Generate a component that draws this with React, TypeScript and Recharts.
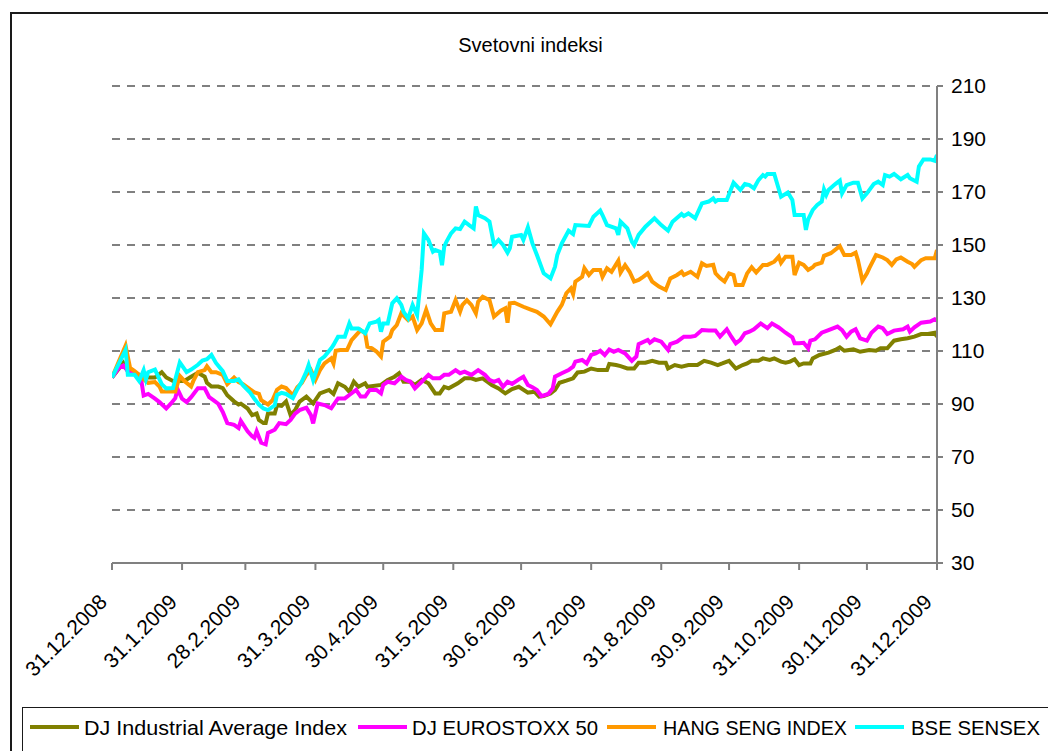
import React from "react";
import { LineChart, Line, XAxis, YAxis, CartesianGrid } from "recharts";

// day offsets from 31.12.2008, index values (31.12.2008 = 100)
const djia: [number, number][] = [
  [0, 100], [5, 105.5], [7, 102.4], [10, 101.5], [14, 100.5], [16, 100], [19, 100], [22, 102], [24, 100],
  [27, 98.7], [30, 98.7], [32, 98.7], [35, 100.3], [38, 101.8], [41, 100.3], [42, 98], [44, 96.6], [47, 96.6],
  [49, 96], [51, 93.3], [54, 91], [56, 89.8], [57, 90.1], [60, 88.3], [62, 85.8], [64, 86.4], [65, 84],
  [67, 82.8], [68, 82.8], [69, 86.4], [72, 86.4], [73, 89.5], [75, 89.3], [77, 91], [79, 85.8], [81, 87.7],
  [83, 90.9], [86, 92.8], [89, 90.2], [92, 94], [96, 95.3], [98, 93.8], [100, 97.8], [103, 96.5], [105, 94.6],
  [107, 98.4], [109, 96.5], [112, 97.8], [113, 96.5], [119, 97.2], [122, 99.1], [125, 100.3], [127, 101.6],
  [129, 98.4], [132, 98.4], [134, 97.2], [137, 99.1], [140, 97.8], [143, 94], [145, 94], [147, 96.5],
  [149, 95.9], [153, 97.8], [156, 99.7], [159, 99.7], [161, 99.1], [164, 99.7], [166, 98.4], [168, 97.2],
  [171, 95.9], [174, 94], [177, 95.6], [180, 96.5], [184, 94.3], [187, 94.6], [189, 92.8], [191, 93],
  [194, 94], [196, 95.3], [198, 98], [201, 98.8], [204, 99.7], [206, 101.9], [209, 102.2], [212, 103.4],
  [215, 102.8], [219, 102.8], [220, 105.1], [223, 104.7], [225, 104.3], [228, 103.4], [231, 103.4],
  [233, 105.6], [236, 105.6], [239, 106.3], [242, 105.6], [245, 105.6], [246, 103.4], [249, 104.7],
  [252, 104.1], [255, 104.7], [259, 104.7], [262, 106.3], [265, 105.6], [268, 104.7], [270, 105.3],
  [273, 106.3], [276, 103.4], [279, 104.7], [281, 105.3], [283, 106.3], [286, 106.3], [288, 107.2],
  [291, 106.6], [293, 107.2], [296, 106], [298, 105.6], [300, 106], [302, 106.9], [304, 104.7], [306, 105.3],
  [309, 105.3], [310, 107.2], [313, 108.5], [317, 109.4], [320, 110.4], [322, 111.4], [324, 110.1],
  [328, 110.6], [331, 109.7], [335, 110.4], [338, 110.1], [340, 111], [343, 111], [346, 113.9], [349, 114.4],
  [352, 114.8], [355, 115.4], [358, 116.4], [361, 116.4], [364, 116.9], [365, 115.4],
];

const eurostoxx: [number, number][] = [
  [0, 100], [3, 103.6], [5, 104.5], [7, 102.4], [11, 100.8], [13, 98.7], [14, 93.2], [16, 93.8], [19, 92],
  [21, 90.7], [24, 88.3], [26, 90.1], [28, 92.2], [29, 95.6], [31, 92], [33, 90.7], [35, 92.6], [38, 95.9],
  [41, 95.9], [43, 92.6], [45, 91.4], [47, 90.1], [49, 87], [51, 82.8], [54, 82.1], [56, 80.9], [57, 83.6],
  [60, 79.7], [62, 77.8], [63, 77.2], [64, 79.7], [66, 75.4], [68, 74.8], [69, 79.1], [72, 80.3], [74, 82.8],
  [77, 82.4], [79, 84], [81, 86.4], [83, 87.7], [86, 88.6], [88, 85.8], [89, 82.7], [91, 90.2], [94, 89.6],
  [97, 88.4], [100, 92.1], [103, 92.1], [105, 93.4], [108, 95.3], [110, 92.8], [112, 92.8], [114, 95.3],
  [117, 95.3], [119, 94], [120, 97.2], [122, 98.4], [125, 97.8], [128, 100.3], [130, 99.1], [132, 98.4],
  [134, 95.9], [137, 98.4], [140, 101], [142, 99.7], [145, 99.7], [147, 101], [149, 101], [152, 102.8],
  [154, 101.6], [156, 102.2], [159, 101], [162, 102.8], [165, 101], [167, 99.1], [169, 98.4], [171, 99.1],
  [173, 96.5], [175, 98.4], [177, 97.6], [180, 99.3], [182, 100.3], [184, 97.2], [186, 96.3], [188, 95.3],
  [190, 93], [193, 93.8], [195, 95.9], [196, 100.3], [199, 101.6], [202, 102.8], [204, 104.1], [205, 106],
  [208, 106.6], [210, 105.3], [212, 108.5], [214, 109.1], [216, 110.1], [218, 108.5], [220, 110.6],
  [222, 109.7], [224, 110.4], [227, 109.1], [230, 106.3], [232, 107.9], [233, 112.6], [237, 114.2],
  [238, 113.1], [240, 114.4], [243, 113.5], [246, 110.4], [247, 112.6], [250, 113.5], [253, 115.4],
  [256, 115.4], [258, 115.7], [261, 117.9], [264, 117.7], [267, 117.7], [269, 115.4], [272, 118.2],
  [274, 115.4], [276, 112.9], [278, 114.2], [280, 116.7], [282, 117.3], [284, 118.2], [287, 120.4],
  [290, 118.6], [292, 120.4], [295, 118.9], [298, 116.9], [301, 115.2], [302, 112.9], [304, 112.9],
  [306, 113.1], [308, 111], [309, 113.9], [311, 114.4], [314, 116.9], [317, 117.9], [321, 119.2],
  [323, 117.9], [325, 115.4], [327, 117.3], [329, 118.2], [331, 114.8], [334, 113.9], [336, 116.9],
  [339, 119.2], [341, 118.6], [343, 116.4], [346, 117.7], [350, 118.2], [352, 119.2], [353, 117.3],
  [355, 118.9], [358, 120.7], [362, 121.1], [364, 122], [365, 121.5],
];

const hangSeng: [number, number][] = [
  [0, 100], [3, 106], [6, 112], [8, 103.6], [10, 102.4], [12, 101], [14, 99.3], [16, 98], [19, 98.3],
  [21, 96.6], [22, 94.7], [24, 94.7], [28, 94.7], [30, 100.6], [32, 98.7], [35, 96.6], [36, 98.7], [38, 102],
  [41, 102.8], [42, 104.2], [44, 102], [46, 102], [49, 101], [51, 97.5], [54, 100], [56, 98.3], [58, 97.5],
  [61, 95.6], [63, 94.4], [65, 93.8], [66, 91.4], [69, 89.8], [71, 91.4], [73, 95.4], [75, 96.6], [77, 96],
  [80, 93.3], [82, 96.3], [84, 98], [86, 101], [88, 102.8], [90, 99.1], [92, 102.8], [94, 105.3],
  [97, 107.2], [98, 105.3], [99, 110.1], [101, 110.4], [104, 110.4], [106, 114.1], [108, 116], [110, 117.9],
  [112, 116.7], [113, 111.6], [115, 111], [117, 109.8], [119, 107.9], [120, 113.5], [123, 115.4],
  [124, 117.9], [126, 119.8], [128, 124.2], [131, 121.7], [133, 123], [135, 117.9], [137, 120.4],
  [139, 125.5], [141, 120.4], [143, 117.9], [146, 117.9], [147, 124.2], [150, 124.8], [152, 129.2],
  [154, 124.8], [155, 127.3], [157, 129.2], [159, 127.4], [161, 124.2], [162, 128.6], [164, 130.5],
  [167, 129.2], [169, 123], [172, 125.2], [174, 126.1], [175, 120.7], [176, 128], [178, 128.2], [182, 126.7],
  [185, 125.7], [188, 124.8], [191, 123], [194, 120.1], [197, 124.8], [199, 127.4], [201, 131.8],
  [203, 133.6], [204, 131.5], [205, 136.2], [208, 138], [209, 141.2], [211, 138.7], [213, 140.6],
  [216, 140.6], [217, 138], [219, 141.2], [221, 139.9], [224, 144.1], [225, 139.6], [227, 142.4],
  [229, 139.9], [231, 136.2], [233, 136.8], [235, 138], [237, 139.3], [239, 136.2], [242, 134.3], [245, 133],
  [247, 137.4], [250, 138.7], [252, 139.9], [253, 138.7], [256, 139.9], [259, 138], [261, 143.1],
  [263, 142.1], [266, 142.5], [267, 139.3], [269, 137.5], [271, 136.2], [273, 139.3], [275, 138.7],
  [276, 134.9], [279, 134.9], [281, 139.3], [283, 141.6], [285, 139.6], [288, 142.5], [290, 142.5],
  [293, 143.7], [295, 145.6], [296, 143.3], [298, 145.6], [301, 145.6], [302, 138.7], [304, 143.3],
  [306, 142.5], [308, 140.6], [310, 141.6], [311, 142.5], [314, 143.3], [315, 145.9], [318, 146.9],
  [322, 149.6], [324, 146.2], [327, 146.2], [329, 147.1], [330, 144.3], [332, 136.5], [334, 139.3],
  [335, 141.2], [338, 146.2], [341, 145.3], [343, 144.3], [345, 142.5], [347, 144.6], [349, 145.3],
  [352, 143.7], [354, 142.8], [355, 141.8], [358, 144.3], [360, 145], [364, 145], [365, 148.1],
];

const sensex: [number, number][] = [
  [0, 100], [6, 110.4], [7, 101], [10, 101], [12, 98.7], [14, 102.8], [15, 99.3], [16, 102], [19, 103],
  [22, 97.5], [24, 95.9], [27, 96], [30, 105.7], [33, 102], [35, 103], [38, 104.8], [40, 106.4], [42, 106.9],
  [44, 108.5], [46, 105.5], [49, 102.4], [51, 98.7], [54, 98.7], [56, 99.3], [58, 97], [61, 94.4], [63, 92],
  [65, 89.8], [67, 88.3], [69, 87.7], [72, 89.5], [73, 93.4], [75, 94.2], [77, 93.8], [80, 92.2], [82, 95.6],
  [84, 98.5], [86, 102.2], [87, 104.7], [89, 99], [92, 106.6], [94, 107.9], [97, 111], [98, 112.3],
  [100, 115.4], [103, 115.4], [105, 120.4], [106, 118.5], [109, 118.5], [112, 116.7], [114, 120.4],
  [117, 121.1], [118, 121.7], [119, 117.3], [120, 120.4], [122, 120.4], [124, 128], [126, 129.9],
  [128, 127.4], [129, 124.8], [131, 122.3], [133, 127.4], [135, 123.6], [137, 140.6], [138, 154.4],
  [140, 151.9], [142, 147.5], [143, 148.1], [145, 147.5], [146, 142.4], [147, 149.4], [148, 151.3],
  [150, 154.4], [152, 156.3], [154, 156], [156, 158.8], [158, 157.5], [160, 156.3], [161, 164.5],
  [162, 161.3], [165, 160.1], [167, 158.8], [169, 150], [171, 151.9], [173, 150], [175, 147.1], [176, 148.7],
  [177, 153.1], [181, 153.8], [182, 151.9], [184, 156.7], [186, 150.6], [188, 146.2], [191, 139.3],
  [194, 137.4], [196, 141.8], [197, 146.2], [199, 150.6], [202, 155.4], [204, 154.1], [205, 157.5],
  [211, 157.2], [213, 160.7], [216, 163], [217, 161.3], [219, 157.5], [223, 156.3], [224, 153.8],
  [225, 158.8], [228, 156.3], [230, 151.3], [231, 150], [233, 153.8], [236, 156.9], [240, 160.1],
  [243, 157.5], [246, 155.4], [248, 158.8], [252, 161.7], [253, 160.9], [255, 161.9], [258, 160.1],
  [261, 165.7], [264, 166.4], [266, 167.6], [267, 166.4], [268, 167], [272, 167], [275, 173.5], [278, 170.8],
  [280, 173], [282, 172.6], [284, 171.4], [286, 174.5], [288, 176.4], [289, 175.8], [290, 176.8],
  [293, 176.8], [296, 168.2], [299, 169.8], [301, 167], [302, 161.3], [306, 161.3], [307, 155.7],
  [308, 159.7], [310, 163.2], [312, 165.1], [314, 166.4], [315, 171], [316, 168.9], [317, 170.8], [320, 173],
  [322, 174.3], [323, 169.5], [325, 172.6], [328, 173.5], [330, 173.5], [332, 167.6], [334, 169.5],
  [337, 173], [339, 173.9], [341, 172.6], [342, 176.4], [344, 175.8], [346, 176.8], [349, 174.8],
  [352, 176.4], [353, 175.2], [356, 173.9], [357, 179.6], [359, 182.3], [362, 182.3], [364, 181.8], [365, 184],
];

const xTickDays = [0, 31, 59, 90, 120, 151, 181, 212, 243, 273, 304, 334, 365];
const xTickLabels = [
  "31.12.2008", "31.1.2009", "28.2.2009", "31.3.2009", "30.4.2009", "31.5.2009", "30.6.2009",
  "31.7.2009", "31.8.2009", "30.9.2009", "31.10.2009", "30.11.2009", "31.12.2009",
];
const yTicks = [30, 50, 70, 90, 110, 130, 150, 170, 190, 210];

const seriesNames = ["DJ Industrial Average Index", "DJ EUROSTOXX 50", "HANG SENG INDEX", "BSE SENSEX"];
const seriesColors = ["#808000", "#FF00FF", "#FF9900", "#00FFFF"];
const seriesData = [djia, eurostoxx, hangSeng, sensex];

// legend layout (x of swatch start, x of text start, text width)
const legendSwatchX = [30, 358, 607, 855];
const legendTextX = [84, 412, 663, 911];
const legendTextW = [263, 186, 184, 129];

const title = "Svetovni indeksi";
const FONT = "'Liberation Sans', Arial, sans-serif";

const toPoints = (arr: [number, number][]) => arr.map(([d, v]) => ({ d, v }));

const XTick = (props: any) => {
  const { x, y, payload } = props;
  const idx = xTickDays.indexOf(payload.value);
  const label = idx >= 0 ? xTickLabels[idx] : "";
  const ax = x - 9;
  const ay = y + 26;
  return (
    <text
      x={ax}
      y={ay}
      textAnchor="end"
      dominantBaseline="central"
      transform={`rotate(-45 ${ax} ${ay})`}
      fontSize={21}
      fontFamily={FONT}
      fill="#000"
    >
      {label}
    </text>
  );
};

export default function App() {
  return (
    <div
      style={{
        position: "absolute",
        left: 0,
        top: 0,
        width: 1048,
        height: 751,
        overflow: "hidden",
        background: "#fff",
        fontFamily: FONT,
      }}
    >
      <div
        style={{
          position: "absolute",
          left: 10,
          top: 12,
          width: 1100,
          height: 800,
          border: "2px solid #1a1a1a",
          boxSizing: "border-box",
        }}
      />
      <div
        style={{
          position: "absolute",
          left: 0,
          top: 33,
          width: 1061,
          textAlign: "center",
          fontSize: 20,
          color: "#000",
          lineHeight: "24px",
        }}
      >
        {title}
      </div>
      <div style={{ position: "absolute", left: 0, top: 0 }}>
        <LineChart
          width={1048}
          height={700}
          margin={{ top: 86, right: 51, left: 112, bottom: 37 }}
        >
          <CartesianGrid
            horizontal={true}
            vertical={false}
            stroke="#808080"
            strokeWidth={2}
            strokeDasharray="8 7"
          />
          <XAxis
            type="number"
            dataKey="d"
            domain={[0, 365]}
            ticks={xTickDays}
            interval={0}
            height={100}
            axisLine={{ stroke: "#808080", strokeWidth: 2 }}
            tickLine={{ stroke: "#808080", strokeWidth: 2 }}
            tickSize={7}
            tick={<XTick />}
            allowDataOverflow={true}
          />
          <YAxis
            orientation="right"
            type="number"
            domain={[30, 210]}
            ticks={yTicks}
            interval={0}
            width={60}
            axisLine={{ stroke: "#808080", strokeWidth: 2 }}
            tickLine={{ stroke: "#808080", strokeWidth: 2 }}
            tickSize={6}
            tickMargin={8}
            tick={{ fontSize: 21, fontFamily: FONT, fill: "#000" }}
          />
          {seriesData.map((arr, i) => (
            <Line
              key={seriesNames[i]}
              data={toPoints(arr)}
              dataKey="v"
              name={seriesNames[i]}
              type="linear"
              stroke={seriesColors[i]}
              strokeWidth={4}
              dot={false}
              activeDot={false}
              isAnimationActive={false}
            />
          ))}
        </LineChart>
      </div>
      <div
        style={{
          position: "absolute",
          left: 22,
          top: 707,
          width: 1100,
          height: 100,
          border: "1.5px solid #1a1a1a",
          boxSizing: "border-box",
        }}
      />
      <svg
        style={{ position: "absolute", left: 0, top: 700 }}
        width={1048}
        height={51}
      >
        {seriesNames.map((n, i) => (
          <g key={n}>
            <line
              x1={legendSwatchX[i]}
              x2={legendSwatchX[i] + 49}
              y1={27}
              y2={27}
              stroke={seriesColors[i]}
              strokeWidth={4}
            />
            <text
              x={legendTextX[i]}
              y={27}
              dominantBaseline="central"
              fontSize={21}
              fontFamily={FONT}
              fill="#000"
              textLength={legendTextW[i]}
              lengthAdjust="spacingAndGlyphs"
            >
              {n}
            </text>
          </g>
        ))}
      </svg>
    </div>
  );
}
